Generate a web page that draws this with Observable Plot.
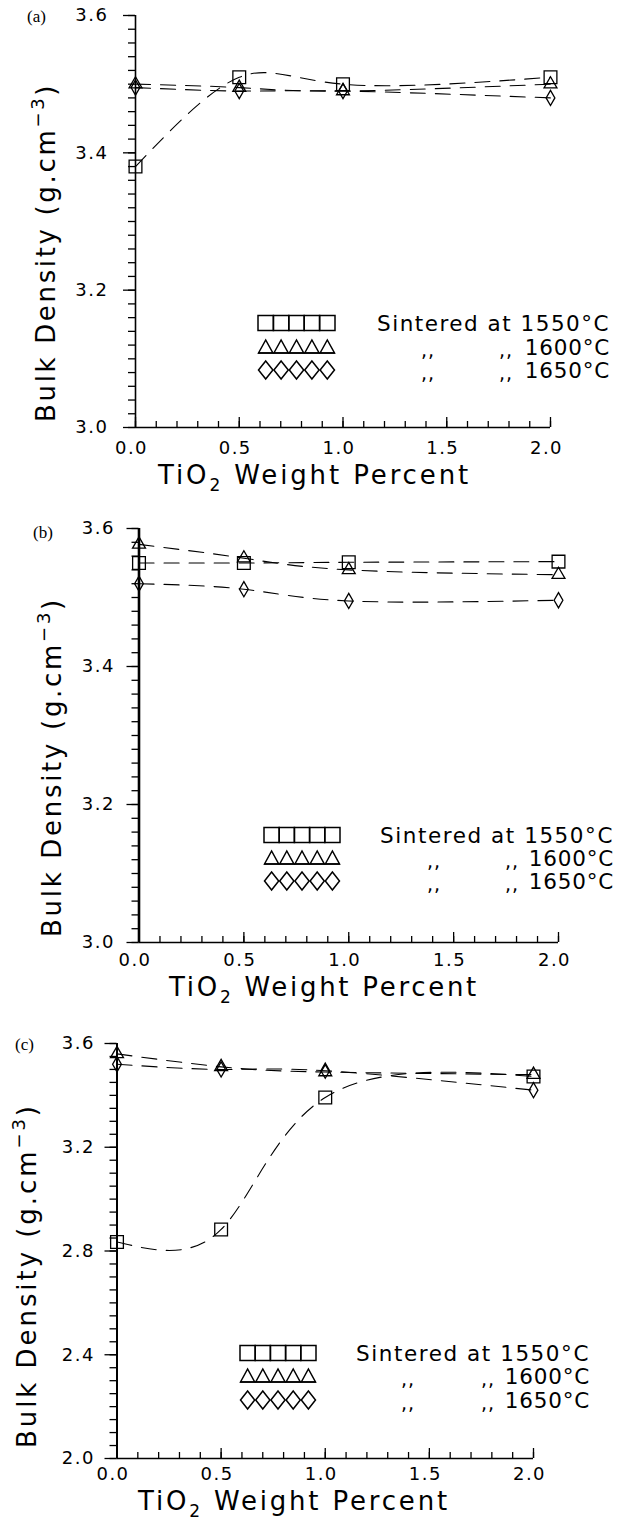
<!DOCTYPE html>
<html><head><meta charset="utf-8">
<script src="https://cdn.jsdelivr.net/npm/d3@7"></script>
<script src="https://cdn.jsdelivr.net/npm/@observablehq/plot@0.6"></script>
<style>
body{margin:0;background:#fff;}
#root{position:relative;width:629px;height:1522px;overflow:hidden;background:#fff;}
#root svg{position:absolute;left:0;}
</style></head><body><div id="root"></div>
<script>
// ---- data ----
const tio2 = [0.0, 0.5, 1.0, 2.0];
const temps = ["1550", "1600", "1650"];
const a1550 = [3.38, 3.51, 3.50, 3.51];
const a1600 = [3.50, 3.495, 3.49, 3.50];
const a1650 = [3.495, 3.49, 3.49, 3.48];
const b1550 = [3.55, 3.55, 3.551, 3.552];
const b1600 = [3.577, 3.557, 3.54, 3.533];
const b1650 = [3.52, 3.512, 3.495, 3.496];
const c1550 = [2.835, 2.883, 3.392, 3.473];
const c1600 = [3.56, 3.51, 3.49, 3.48];
const c1650 = [3.52, 3.50, 3.495, 3.42];
const xTicks = [0.0, 0.5, 1.0, 1.5, 2.0];
const yTicksAB = [3.0, 3.2, 3.4, 3.6];
const yTicksC = [2.0, 2.4, 2.8, 3.2, 3.6];
const panelNames = ["(a)", "(b)", "(c)"];
const xTitleParts = ["TiO", "2", " Weight Percent"];
const yTitleParts = ["Bulk Density (g.cm", "\u22123", ")"];
const legendLead = "Sintered at";
const ditto = ",,";

// ---- layout ----
const layout = [
  {top:0, h:500, mt:15, mb:73, ml:135, mr:79, yd:[3.0,3.6], minor:0.02, major:yTicksAB, series:[a1550,a1600,a1650],
   yPad:15, xPad:14, axisW:1.6,
   label:{x:27,y:22}, xt:{x0:158,x1:471,y:484}, yt:{x:55,y0:422,y1:83},
   leg:{s0:258,s1:335,t0:377,t1:610,d1:428,d2:506,rows:[323,347,370]}},
  {top:500, h:510, mt:28, mb:68, ml:138.5, mr:71, yd:[3.0,3.6], minor:0.02, major:yTicksAB, series:[b1550,b1600,b1650],
   yPad:12, xPad:11, axisW:2.6,
   label:{x:33,y:538}, xt:{x0:169,x1:479,y:996}, yt:{x:61,y0:937,y1:597},
   leg:{s0:264,s1:340,t0:380,t1:614,d1:434,d2:512,rows:[835,858,881]}},
  {top:1010, h:512, mt:33, mb:64, ml:116.5, mr:96, yd:[2.0,3.6], minor:0.05, major:yTicksC, series:[c1550,c1600,c1650],
   yPad:10, xPad:9, axisW:2.0,
   label:{x:15,y:1050}, xt:{x0:138,x1:450,y:1510}, yt:{x:36,y0:1448,y1:1103},
   leg:{s0:240,s1:316,t0:356,t1:590,d1:408,d2:488,rows:[1353,1376,1400]}}
];

const FONT = '"DejaVu Sans", Verdana, sans-serif';
const symbols = ["square", "triangle", "diamond"];
const radii = [7.2, 4.8, 4.6];
const root = document.getElementById("root");

function fit(sel, target) {
  sel.attr("letter-spacing", 0);
  const len = sel.node().getComputedTextLength();
  const n = sel.node().textContent.length;
  sel.attr("letter-spacing", ((target - len) / n).toFixed(2));
}

layout.forEach((L, pi) => {
  const data = [];
  L.series.forEach((vals, si) => vals.forEach((v, j) => data.push({x: tio2[j], y: v, t: temps[si]})));
  const nMinor = Math.round((L.yd[1] - L.yd[0]) / L.minor);
  const minorY = d3.range(nMinor + 1).map(i => +(L.yd[0] + i * L.minor).toFixed(3));
  const minorX = d3.range(21).map(i => +(i * 0.1).toFixed(2));

  const marks = [
    Plot.axisY(minorY, {tickSize: 7, fill: "none", strokeWidth: 1.3, label: null}),
    Plot.axisY(L.major, {tickSize: 12, tickPadding: L.yPad, strokeWidth: 1.3, tickFormat: d => d.toFixed(1), label: null, fontSize: 18}),
    Plot.axisX(minorX, {tickSize: -6, fill: "none", strokeWidth: 1.3, label: null}),
    Plot.axisX(xTicks, {tickSize: -10, fill: "none", strokeWidth: 1.3, label: null}),
    Plot.axisX(xTicks, {tickSize: 0, tickPadding: L.xPad, dx: -4, tickFormat: d => d.toFixed(1), label: null, fontSize: 18}),
    Plot.ruleX([0], {stroke: "#000", strokeWidth: L.axisW}),
    Plot.ruleY([L.yd[0]], {stroke: "#000", strokeWidth: 1.6}),
    Plot.line(data, {x: "x", y: "y", z: "t", curve: "natural", stroke: "#000", strokeWidth: 1.1, strokeDasharray: "15,10"})
  ];
  temps.forEach((t, si) => {
    marks.push(Plot.dot(data.filter(d => d.t === t), {x: "x", y: "y", symbol: symbols[si], r: radii[si], stroke: "#000", fill: "none", strokeWidth: 1.3}));
  });

  const svgEl = Plot.plot({
    width: 629, height: L.h,
    marginTop: L.mt, marginBottom: L.mb, marginLeft: L.ml, marginRight: L.mr,
    x: {domain: [0, 2], label: null},
    y: {domain: L.yd, label: null},
    style: {fontFamily: FONT, fontSize: "18px", background: "transparent", color: "#000", overflow: "visible", letterSpacing: "1.5px"},
    marks
  });
  svgEl.style.top = L.top + "px";
  root.appendChild(svgEl);
  const svg = d3.select(svgEl);
  const T = L.top;
  const txt = () => svg.append("text").attr("text-anchor", "start").attr("fill", "#000").attr("font-family", FONT);

  // panel label
  txt().attr("x", L.label.x).attr("y", L.label.y - T)
    .attr("font-family", '"Liberation Serif", serif').attr("font-size", 17).attr("letter-spacing", 0)
    .text(panelNames[pi]);

  // x title
  const xt = txt().attr("x", L.xt.x0).attr("y", L.xt.y - T).attr("font-size", 26);
  xt.append("tspan").text(xTitleParts[0]);
  xt.append("tspan").attr("dy", 7).attr("font-size", 17).text(xTitleParts[1]);
  xt.append("tspan").attr("dy", -7).text(xTitleParts[2]);
  fit(xt, L.xt.x1 - L.xt.x0);

  // y title
  const yt = txt().attr("transform", `translate(${L.yt.x},${L.yt.y0 - T}) rotate(-90)`).attr("font-size", 26);
  yt.append("tspan").text(yTitleParts[0]);
  yt.append("tspan").attr("dy", -11).attr("font-size", 18).text(yTitleParts[1]);
  yt.append("tspan").attr("dy", 11).text(yTitleParts[2]);
  fit(yt, L.yt.y0 - L.yt.y1);

  // legend
  const lg = L.leg;
  const n = 5, w = (lg.s1 - lg.s0) / n;
  temps.forEach((t, si) => {
    const cy = lg.rows[si] - T;
    const g = svg.append("g").attr("fill", "none").attr("stroke", "#000").attr("stroke-width", 1.5);
    for (let k = 0; k < n; k++) {
      const cx = lg.s0 + w * (k + 0.5);
      if (si === 0) g.append("rect").attr("x", cx - w / 2).attr("y", cy - 7.5).attr("width", w).attr("height", 15);
      else if (si === 1) g.append("path").attr("d", `M${cx - w / 2 + 0.5},${cy + 6}L${cx},${cy - 7}L${cx + w / 2 - 0.5},${cy + 6}Z`);
      else g.append("path").attr("d", `M${cx},${cy - 9}L${cx + w / 2 - 0.5},${cy}L${cx},${cy + 9}L${cx - w / 2 + 0.5},${cy}Z`);
    }
    if (si === 1) g.append("line").attr("x1", lg.s0).attr("x2", lg.s1).attr("y1", cy + 6).attr("y2", cy + 6);
    const base = cy + 8;
    if (si === 0) {
      const lt = txt().attr("x", lg.t0).attr("y", base).attr("font-size", 21.5).text(`${legendLead} ${t}°C`);
      fit(lt, lg.t1 - lg.t0);
    } else {
      [lg.d1, lg.d2].forEach(dx => txt().attr("x", dx).attr("y", base + 2).attr("font-size", 19)
        .attr("letter-spacing", 1).attr("text-anchor", "middle").text(ditto));
      txt().attr("x", lg.t1).attr("y", base).attr("font-size", 21.5)
        .attr("text-anchor", "end").attr("letter-spacing", 0.8).text(`${t}°C`);
    }
  });
});
</script>
</body></html>
